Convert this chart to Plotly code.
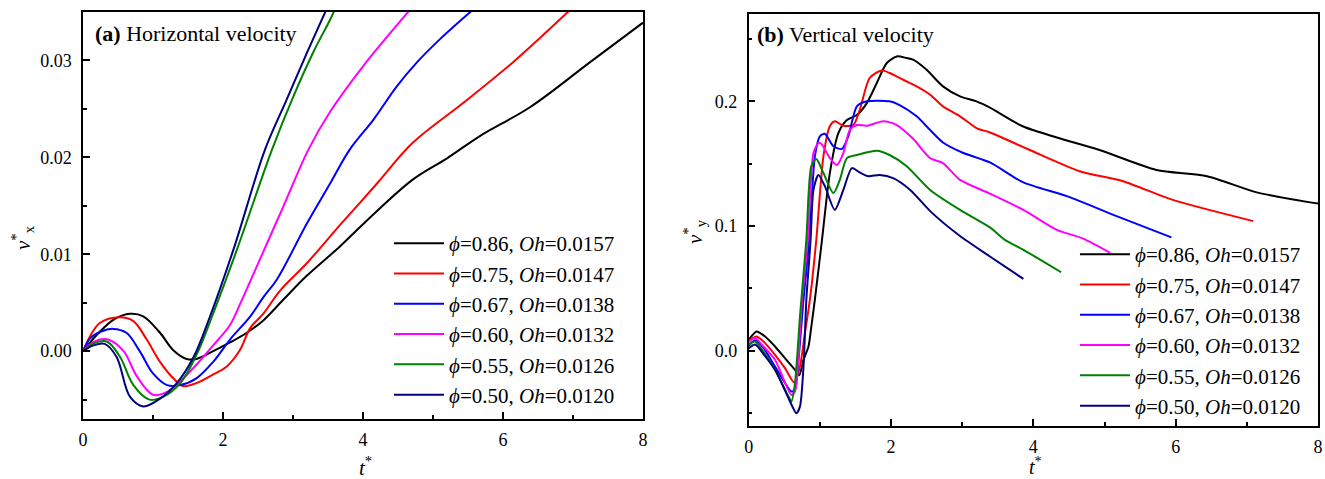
import plotly.graph_objects as go

# ---------------- data ----------------
labels = ["0.86", "0.75", "0.67", "0.60", "0.55", "0.50"]
oh = ["0.0157", "0.0147", "0.0138", "0.0132", "0.0126", "0.0120"]
colors = ["#000000", "#FF0000", "#0000FF", "#FF00FF", "#008000", "#000080"]

# (a) horizontal velocity
ta_086 = [0, 0.24, 0.45, 0.67, 0.86, 1.1, 1.29, 1.48, 1.62, 1.86, 2.1, 2.34, 2.58, 2.86, 3.2, 3.67, 4.0, 4.71, 5.2, 5.67, 6.39, 7.24, 8.0]
va_086 = [0, 0.002, 0.0033, 0.00385, 0.0036, 0.0019, 0.0001, -0.0008, -0.0008, 0.0, 0.0009, 0.0019, 0.0032, 0.0053, 0.0078, 0.0108, 0.0131, 0.0177, 0.0199, 0.0222, 0.0252, 0.0298, 0.0339]
ta_075 = [0, 0.24, 0.53, 0.72, 0.91, 1.1, 1.29, 1.43, 1.62, 1.86, 2.05, 2.24, 2.39, 2.58, 2.81, 3.2, 3.67, 4.2, 4.71, 5.43, 6.14, 6.97]
va_075 = [0, 0.0029, 0.0035, 0.0031, 0.0012, -0.0011, -0.0028, -0.0036, -0.0033, -0.0024, -0.0016, 0.0001, 0.0024, 0.0039, 0.0062, 0.0091, 0.013, 0.0173, 0.0215, 0.0256, 0.0298, 0.0353]
ta_067 = [0, 0.1, 0.25, 0.43, 0.62, 0.81, 1.0, 1.2, 1.39, 1.62, 1.86, 2.1, 2.39, 2.58, 2.77, 3.2, 3.53, 3.81, 4.15, 4.48, 4.77, 5.1, 5.58]
va_067 = [0, 0.0013, 0.002, 0.0023, 0.0019, 0.0, -0.0023, -0.0035, -0.0035, -0.0028, -0.0011, 0.0012, 0.0036, 0.0056, 0.0074, 0.0132, 0.0173, 0.0208, 0.0239, 0.0273, 0.0298, 0.0322, 0.0353]
ta_060 = [0, 0.12, 0.24, 0.36, 0.58, 0.77, 1.0, 1.2, 1.39, 1.62, 1.86, 2.1, 2.24, 2.48, 2.86, 3.22, 3.53, 4.0, 4.68]
va_060 = [0, 0.0008, 0.0012, 0.0012, 0.0, -0.0026, -0.0045, -0.0042, -0.0031, -0.0014, 0.0006, 0.0027, 0.0048, 0.0087, 0.0149, 0.0208, 0.0247, 0.0294, 0.0353]
ta_055 = [0, 0.15, 0.34, 0.53, 0.72, 0.95, 1.15, 1.39, 1.62, 1.86, 2.2, 2.7, 3.0, 3.3, 3.53, 3.6]
va_055 = [0, 0.0008, 0.001, -0.0006, -0.0035, -0.005, -0.0047, -0.0033, -0.0004, 0.0039, 0.0105, 0.0208, 0.0262, 0.031, 0.0342, 0.0353]
ta_050 = [0, 0.15, 0.31, 0.48, 0.67, 0.86, 1.1, 1.34, 1.58, 1.81, 2.15, 2.6, 2.9, 3.2, 3.48]
va_050 = [0, 0.0006, 0.00075, -0.0006, -0.0047, -0.0057, -0.0049, -0.0033, -0.0006, 0.0035, 0.0105, 0.0208, 0.0258, 0.0308, 0.0353]

# (b) vertical velocity
tb_086 = [0, 0.11, 0.16, 0.23, 0.37, 0.51, 0.65, 0.71, 0.77, 0.84, 0.88, 0.93, 1.03, 1.14, 1.26, 1.38, 1.52, 1.66, 1.80, 1.94, 2.08, 2.22, 2.31, 2.5, 2.73, 2.97, 3.2, 3.39, 3.85, 4.33, 4.93, 5.73, 6.44, 7.14, 8.0]
vb_086 = [0.009, 0.0155, 0.0142, 0.0115, 0.0035, -0.0059, -0.0152, -0.0195, -0.0072, 0.0035, 0.0195, 0.041, 0.089, 0.1425, 0.1746, 0.185, 0.189, 0.1986, 0.2147, 0.2307, 0.236, 0.2347, 0.2334, 0.2253, 0.212, 0.204, 0.2, 0.195, 0.18, 0.171, 0.161, 0.145, 0.14, 0.127, 0.118]
tb_075 = [0, 0.11, 0.23, 0.37, 0.51, 0.64, 0.72, 0.79, 0.86, 0.95, 1.05, 1.14, 1.21, 1.33, 1.47, 1.56, 1.70, 1.87, 1.98, 2.17, 2.36, 2.55, 2.73, 2.97, 3.2, 3.39, 3.95, 4.65, 5.26, 5.96, 7.09]
vb_075 = [0.008, 0.0115, 0.0062, -0.0032, -0.0139, -0.0254, -0.0126, 0.0142, 0.041, 0.089, 0.156, 0.18, 0.184, 0.1804, 0.181, 0.193, 0.2187, 0.2248, 0.2227, 0.2173, 0.212, 0.2053, 0.196, 0.188, 0.1786, 0.175, 0.161, 0.144, 0.136, 0.121, 0.104]
tb_067 = [0, 0.09, 0.2, 0.37, 0.6, 0.65, 0.70, 0.77, 0.85, 0.93, 1.0, 1.07, 1.19, 1.31, 1.40, 1.52, 1.66, 1.98, 2.12, 2.36, 2.55, 2.73, 3.0, 3.39, 3.86, 4.47, 5.17, 5.94]
vb_067 = [0.004, 0.0085, 0.003, -0.0126, -0.0326, -0.031, -0.0072, 0.041, 0.089, 0.156, 0.172, 0.174, 0.164, 0.1618, 0.172, 0.196, 0.2, 0.2, 0.197, 0.188, 0.177, 0.167, 0.159, 0.151, 0.135, 0.124, 0.108, 0.091]
tb_060 = [0, 0.09, 0.2, 0.37, 0.6, 0.65, 0.72, 0.75, 0.83, 0.91, 0.98, 1.02, 1.14, 1.24, 1.33, 1.42, 1.52, 1.66, 1.89, 2.08, 2.31, 2.55, 2.73, 2.97, 3.39, 3.86, 4.33, 4.7, 5.08]
vb_060 = [0.007, 0.0102, 0.004, -0.0072, -0.0353, -0.0326, 0.0142, 0.041, 0.089, 0.1585, 0.1665, 0.166, 0.1545, 0.149, 0.1585, 0.177, 0.181, 0.1804, 0.184, 0.181, 0.17, 0.1545, 0.1505, 0.137, 0.126, 0.113, 0.097, 0.09, 0.0786]
tb_055 = [0, 0.09, 0.2, 0.37, 0.56, 0.6, 0.65, 0.72, 0.74, 0.81, 0.88, 0.95, 1.05, 1.19, 1.28, 1.38, 1.52, 1.80, 1.98, 2.22, 2.55, 2.97, 3.39, 3.6, 3.86, 4.39]
vb_055 = [0.005, 0.0075, 0.0, -0.0152, -0.0366, -0.0406, -0.0259, 0.0275, 0.041, 0.089, 0.148, 0.1537, 0.1425, 0.1265, 0.137, 0.1545, 0.157, 0.1604, 0.157, 0.148, 0.129, 0.113, 0.099, 0.089, 0.081, 0.063]
tb_050 = [0, 0.09, 0.2, 0.37, 0.56, 0.67, 0.72, 0.77, 0.81, 0.87, 0.91, 0.98, 1.07, 1.21, 1.33, 1.45, 1.56, 1.68, 1.84, 2.03, 2.27, 2.55, 2.97, 3.39, 3.86]
vb_050 = [0.002, 0.005, -0.002, -0.0152, -0.038, -0.05, -0.0447, -0.0126, 0.041, 0.089, 0.129, 0.141, 0.132, 0.113, 0.129, 0.1465, 0.143, 0.14, 0.141, 0.1385, 0.129, 0.112, 0.092, 0.0756, 0.0577]

series_a = [(ta_086, va_086), (ta_075, va_075), (ta_067, va_067), (ta_060, va_060), (ta_055, va_055), (ta_050, va_050)]
series_b = [(tb_086, vb_086), (tb_075, vb_075), (tb_067, vb_067), (tb_060, vb_060), (tb_055, vb_055), (tb_050, vb_050)]

FONT = "Liberation Serif, Times New Roman, serif"

fig = go.Figure()
for i in range(6):
    name = f"<i>ϕ</i>={labels[i]}, <i>Oh</i>={oh[i]}"
    fig.add_trace(go.Scatter(x=series_a[i][0], y=series_a[i][1], mode="lines",
                             line=dict(color=colors[i], width=2, shape="spline", smoothing=1.0),
                             name=name, legend="legend", xaxis="x", yaxis="y"))
for i in range(6):
    name = f"<i>ϕ</i>={labels[i]}, <i>Oh</i>={oh[i]}"
    fig.add_trace(go.Scatter(x=series_b[i][0], y=series_b[i][1], mode="lines",
                             line=dict(color=colors[i], width=2, shape="spline", smoothing=0.7),
                             name=name, legend="legend2", xaxis="x2", yaxis="y2"))

W, H = 1325, 479
base = dict(showline=True, linecolor="black", linewidth=1.5, mirror=True,
            ticks="inside", ticklen=7, tickwidth=1.5, tickcolor="black",
            showgrid=False, zeroline=False, automargin=False,
            tickfont=dict(family=FONT, size=18, color="black"))


def minor(d):
    return dict(ticks="inside", ticklen=4, tickwidth=1.5, tickcolor="black", dtick=d)


def label(text, x, y, angle=0, size=21, anchor="center"):
    return dict(text=text, xref="paper", yref="paper", x=x / W, y=1 - y / H,
                xanchor=anchor, yanchor="middle", showarrow=False, textangle=angle,
                font=dict(family=FONT, size=size, color="black"))


fig.update_layout(
    width=W, height=H,
    margin=dict(l=0, r=0, t=0, b=0),
    paper_bgcolor="white", plot_bgcolor="white",
    font=dict(family=FONT, color="black"),
    xaxis=dict(domain=[83 / W, 643 / W], range=[0, 8], dtick=2, anchor="y",
               minor=minor(1), ticklabelstandoff=4, **base),
    yaxis=dict(domain=[1 - 419 / H, 1 - 12 / H], range=[-0.007, 0.035], dtick=0.01, tickformat=".2f",
               anchor="x", ticklabelstandoff=6, minor=minor(0.005), **base),
    xaxis2=dict(domain=[748.7 / W, 1318 / W], range=[0, 8], dtick=2, anchor="y2",
                minor=minor(1), ticklabelstandoff=4, **base),
    yaxis2=dict(domain=[1 - 425.7 / H, 1 - 14 / H], range=[-0.06, 0.27], dtick=0.1, tickformat=".1f",
                anchor="x2", ticklabelstandoff=6, minor=minor(0.05), **base),
    legend=dict(x=389 / W, y=1 - 223 / H, xanchor="left", yanchor="top",
                bgcolor="rgba(0,0,0,0)", font=dict(family=FONT, size=21, color="black"),
                itemwidth=50),
    legend2=dict(x=1075 / W, y=1 - 234 / H, xanchor="left", yanchor="top",
                 bgcolor="rgba(0,0,0,0)", font=dict(family=FONT, size=21, color="black"),
                 itemwidth=50),
    annotations=[
        label("<b>(a)</b> Horizontal velocity", 93, 33, size=22, anchor="left"),
        label("<b>(b)</b> Vertical velocity", 755, 35, size=22, anchor="left"),
        label("<i>t</i><sup>*</sup>", 365, 466),
        label("<i>t</i><sup>*</sup>", 1035, 466, size=20),
        label("<i>v</i><sup>*</sup><sub>x</sub>", 22, 238, angle=-90),
        label("<i>v</i><sup>*</sup><sub>y</sub>", 694, 232, angle=-90),
    ],
)

fig.write_html("out.html")
